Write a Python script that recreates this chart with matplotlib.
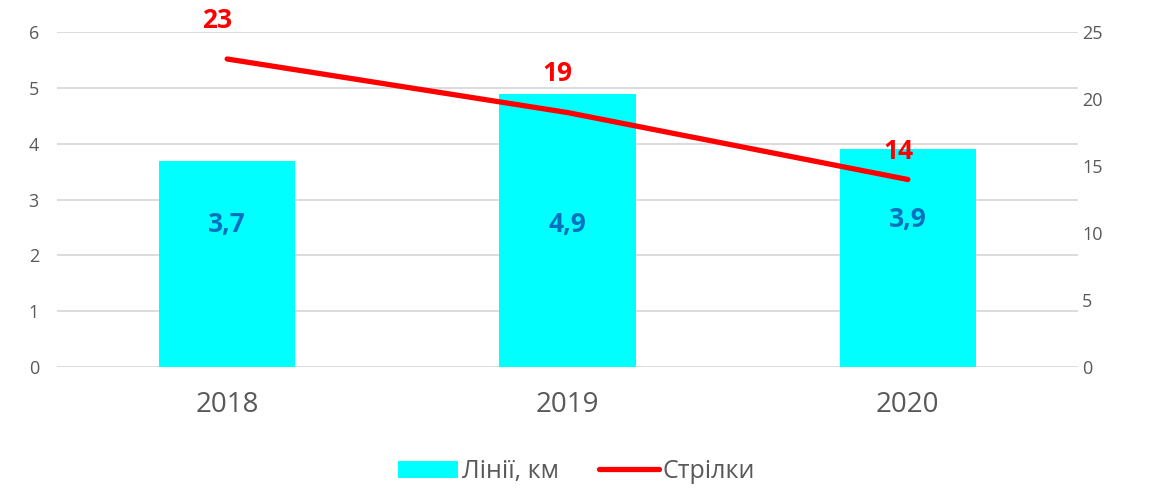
import matplotlib.pyplot as plt
import numpy as np

plt.rcParams["font.family"] = ["Open Sans", "DejaVu Sans"]

years = ["2018", "2019", "2020"]
lines_km = [3.7, 4.9, 3.9]
switches = [23, 19, 14]
bar_labels = ["3,7", "4,9", "3,9"]

x = np.arange(len(years))

fig = plt.figure(figsize=(11.53, 4.88), dpi=100)
ax = fig.add_axes([0.0494, 0.248, 0.8856, 0.686])
ax2 = ax.twinx()

grey = "#595959"

ax.bar(x, lines_km, width=0.4, color="#00FFFF", label="Лінії, км", zorder=2)
ax2.plot(x, switches, color="#FF0000", linewidth=3.8, solid_capstyle="round",
         label="Стрілки", zorder=3)

# bar value labels (placed in the middle zone like the original)
for xi, lab, yv in zip(x, bar_labels, [2.55, 2.55, 2.65]):
    ax.text(xi, yv, lab, ha="center", va="center", color="#0070C0",
            fontsize=19, fontweight="bold", zorder=4)

# line value labels
for xi, v, off in zip(x, switches, [28, 28, 20]):
    ax2.annotate(str(v), (xi, v), xytext=(-7, off), textcoords="offset points",
                 ha="center", va="center", color="#FF0000", fontsize=19,
                 fontweight="bold")

ax.set_xlim(-0.5, 2.5)
ax.set_ylim(0, 6)
ax2.set_ylim(0, 25)
ax.set_yticks(range(0, 7))
ax2.set_yticks(range(0, 26, 5))
ax.set_xticks(x)
ax.set_xticklabels(years)

ax.grid(axis="y", color="#D9D9D9", linewidth=1.3, zorder=0)
ax.set_axisbelow(True)
for a in (ax, ax2):
    for s in a.spines.values():
        s.set_visible(False)
ax.tick_params(axis="y", length=0, labelsize=13, labelcolor=grey, pad=13)
ax2.tick_params(axis="y", length=0, labelsize=13, labelcolor=grey, pad=3)
ax.tick_params(axis="x", length=0, labelsize=20, labelcolor=grey, pad=17)

ax.set_zorder(ax2.get_zorder() - 1)
ax.patch.set_visible(False)

h1, l1 = ax.get_legend_handles_labels()
h2, l2 = ax2.get_legend_handles_labels()
fig.legend(h1 + h2, l1 + l2, loc="lower center", bbox_to_anchor=(0.5, -0.038),
           ncol=2, frameon=False, fontsize=18, labelcolor=grey,
           handlelength=2.4, handletextpad=0.15, columnspacing=1.6)

plt.savefig("out.png", dpi=100)
